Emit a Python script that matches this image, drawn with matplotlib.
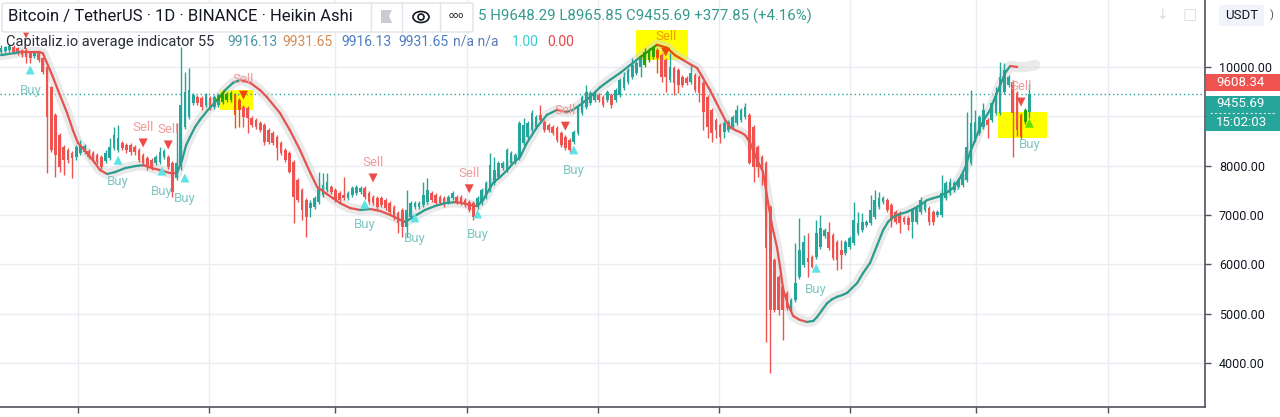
import matplotlib
matplotlib.use("Agg")
import matplotlib.pyplot as plt
from matplotlib.collections import LineCollection
from matplotlib.patches import Rectangle, FancyBboxPatch, Ellipse, Polygon
from matplotlib.colors import to_rgb
import numpy as np

plt.rcParams['font.family'] = ['Roboto', 'DejaVu Sans']

# Heikin Ashi candles, BTC/USDT daily
ha_open = [
    10300, 10330, 10350, 10410, 10390, 10350, 10350, 10300, 10220, 10280,
    10180, 10000, 9590, 9030, 8620, 8380, 8320, 8260, 8170, 8260,
    8280, 8300, 8260, 8220, 8170, 8090, 8150, 8360, 8320, 8460,
    8420, 8420, 8380, 8320, 8220, 8150, 8110, 8050, 8070, 8170,
    8170, 8050, 7750, 8010, 8780, 8990, 9270, 9390, 9370, 9230,
    9370, 9190, 9230, 9290, 9330, 9330, 9430, 9330, 9190, 9170,
    8970, 8930, 8860, 8820, 8720, 8660, 8580, 8460, 8320, 8260,
    8070, 7710, 7510, 7300, 7140, 7160, 7260, 7400, 7510, 7570,
    7510, 7450, 7400, 7340, 7400, 7450, 7470, 7550, 7450, 7360,
    7340, 7340, 7300, 7240, 7160, 7040, 7100, 6760, 6960, 7160,
    7160, 7200, 7260, 7450, 7400, 7360, 7340, 7260, 7340, 7360,
    7360, 7300, 7260, 7240, 7160, 7240, 7360, 7510, 7650, 7770,
    7950, 7910, 8050, 8070, 8150, 8460, 8580, 8720, 8780, 9030,
    8890, 8820, 8780, 8760, 8660, 8580, 8520, 8480, 8660, 9070,
    9190, 9270, 9330, 9430, 9390, 9330, 9430, 9330, 9430, 9570,
    9700, 9800, 9880, 10000, 10040, 10140, 10200, 10340, 10240, 10140,
    9740, 9980, 9940, 9800, 9780, 9700, 9840, 9800, 9680, 9390,
    9130, 8930, 8820, 8680, 8720, 8780, 8860, 8930, 8990, 9030,
    8780, 8380, 8170, 8050, 7160, 6090, 5740, 5540, 5420, 5070,
    5270, 5740, 5980, 6130, 6150, 6150, 6350, 6570, 6650, 6590,
    6450, 6290, 6230, 6350, 6430, 6630, 6690, 6800, 6840, 6960,
    7160, 7260, 7300, 7200, 7060, 7040, 6940, 6940, 6860, 6860,
    7060, 7100, 7140, 7060, 7000, 7000, 7340, 7450, 7510, 7570,
    7610, 7710, 8050, 8520, 8660, 8780, 8930, 8930, 9070, 9070,
    9490, 9630, 9700, 9470, 9030, 8890, 9078,
]
ha_high = [
    10450, 10430, 10470, 10450, 10410, 10370, 10390, 10330, 10300, 10300,
    10200, 10020, 9610, 9070, 8660, 8420, 8360, 8300, 8420, 8520,
    8440, 8340, 8300, 8260, 8220, 8320, 8560, 8780, 8820, 8500,
    8460, 8460, 8420, 8360, 8260, 8200, 8150, 8220, 8380, 8340,
    8220, 8090, 8860, 10410, 9900, 9980, 9470, 9430, 9410, 9470,
    9410, 9430, 9470, 9510, 9490, 9510, 9470, 9370, 9230, 9210,
    9010, 8970, 8910, 8860, 8760, 8700, 8620, 8500, 8360, 8300,
    8110, 7750, 7550, 7340, 7300, 7380, 7870, 7850, 7850, 7610,
    7550, 7490, 7770, 7490, 7590, 7610, 7590, 7590, 7490, 7400,
    7380, 7380, 7340, 7280, 7200, 7080, 7140, 7510, 7280, 7280,
    7280, 7670, 7750, 7490, 7450, 7400, 7380, 7400, 7490, 7400,
    7400, 7340, 7300, 7280, 7380, 7550, 7690, 8260, 8170, 8090,
    8090, 8360, 8300, 8260, 8910, 8970, 8910, 9130, 9030, 9230,
    8930, 8860, 8820, 8800, 8700, 8620, 8560, 8720, 9230, 9430,
    9630, 9510, 9510, 9470, 9430, 9530, 9470, 9570, 9780, 9900,
    9980, 10180, 10120, 10240, 10390, 10390, 10430, 10390, 10280, 10180,
    10280, 10020, 9980, 9840, 9820, 10040, 9880, 9840, 9720, 9430,
    9170, 8970, 8860, 8910, 8930, 9030, 9230, 9170, 9270, 9070,
    8820, 8420, 8220, 8090, 7200, 6130, 5780, 5580, 5460, 5310,
    6430, 6940, 6590, 6630, 6190, 6900, 7000, 6740, 6860, 6630,
    6490, 6490, 6490, 6570, 7260, 7060, 7040, 6900, 7400, 7510,
    7460, 7380, 7340, 7240, 7100, 7080, 6980, 6980, 7140, 7200,
    7360, 7280, 7180, 7100, 7100, 7810, 7690, 7750, 7690, 7750,
    7850, 9090, 9530, 9130, 9030, 9270, 8970, 9310, 9590, 10100,
    10080, 9840, 9740, 9510, 9070, 9170, 9648,
]
ha_low = [
    10240, 10280, 10300, 10260, 10240, 10200, 10080, 10080, 10180, 10100,
    9860, 7850, 8280, 7770, 7870, 7810, 8050, 7750, 8110, 8220,
    8240, 8130, 8070, 8030, 7930, 8050, 8110, 8320, 8280, 8320,
    8260, 8220, 8220, 8070, 7990, 7910, 7910, 8010, 8030, 8130,
    7930, 7360, 7710, 7910, 8740, 8950, 9230, 9230, 9130, 9190,
    9130, 9150, 9190, 9250, 9290, 9290, 8760, 8780, 8780, 8660,
    8780, 8740, 8680, 8420, 8440, 8420, 8110, 8220, 8070, 7850,
    6840, 7260, 6900, 6550, 6960, 7120, 7220, 7360, 7470, 7420,
    7260, 7260, 7300, 7300, 7360, 7400, 7430, 7320, 7220, 7200,
    7120, 7160, 7100, 7020, 6900, 6630, 6550, 6550, 6920, 7120,
    7120, 7160, 7220, 7260, 7200, 7200, 7160, 7220, 7300, 7220,
    7200, 7160, 7060, 6900, 7120, 7200, 7320, 7470, 7610, 7730,
    7910, 7870, 8010, 8030, 8110, 8420, 8540, 8680, 8740, 8890,
    8680, 8680, 8620, 8480, 8380, 8320, 8280, 8440, 8620, 9030,
    9150, 9230, 9290, 9290, 9190, 9290, 9170, 9290, 9390, 9530,
    9650, 9760, 9840, 9800, 10000, 10100, 10160, 9880, 9700, 9490,
    9700, 9430, 9470, 9590, 9630, 9650, 9490, 9290, 8720, 8560,
    8480, 8560, 8460, 8560, 8680, 8740, 8820, 8890, 8950, 8030,
    7670, 7770, 7610, 4420, 3800, 5030, 4970, 4460, 5070, 5030,
    5230, 5700, 5940, 5740, 5920, 6110, 6310, 6530, 6290, 6090,
    5880, 5900, 6190, 6310, 6390, 6590, 6650, 6760, 6800, 6920,
    7120, 7220, 7060, 6760, 6820, 6630, 6820, 6690, 6530, 6820,
    7020, 7060, 6800, 6800, 6960, 6960, 7300, 7400, 7470, 7530,
    7570, 7670, 8010, 8480, 8620, 8740, 8560, 8890, 9030, 9030,
    9450, 9590, 8170, 8610, 8540, 8840, 8966,
]
ha_close = [
    10390, 10410, 10430, 10300, 10280, 10240, 10200, 10180, 10280, 10140,
    9900, 8990, 8320, 8220, 7970, 8110, 8110, 8150, 8380, 8420,
    8400, 8170, 8110, 8070, 7970, 8260, 8380, 8620, 8560, 8360,
    8320, 8280, 8280, 8110, 8050, 7970, 7950, 8170, 8280, 8300,
    7970, 7470, 8050, 9230, 9490, 9530, 9430, 9270, 9190, 9430,
    9170, 9390, 9430, 9470, 9450, 9470, 9030, 9130, 8990, 8970,
    8820, 8780, 8720, 8480, 8480, 8460, 8360, 8260, 8110, 7870,
    7360, 7300, 7100, 6960, 7240, 7340, 7570, 7610, 7670, 7470,
    7300, 7300, 7340, 7450, 7550, 7570, 7550, 7360, 7260, 7240,
    7160, 7200, 7140, 7060, 6940, 6840, 6760, 7100, 7240, 7240,
    7240, 7400, 7510, 7300, 7240, 7240, 7200, 7360, 7450, 7260,
    7240, 7200, 7100, 6960, 7340, 7510, 7650, 8010, 7910, 8050,
    8050, 8320, 8260, 8220, 8860, 8820, 8860, 9070, 8990, 8930,
    8720, 8720, 8660, 8520, 8420, 8360, 8320, 8680, 9190, 9390,
    9490, 9470, 9470, 9330, 9230, 9490, 9230, 9530, 9740, 9800,
    9940, 10040, 10080, 10200, 10300, 10340, 10390, 10180, 9800, 9800,
    10000, 9680, 9630, 9630, 9680, 9880, 9530, 9470, 9090, 8780,
    8660, 8720, 8580, 8860, 8890, 8990, 9130, 9130, 9190, 8050,
    7970, 7970, 7970, 6330, 5070, 5070, 5070, 5070, 5110, 5270,
    5620, 6290, 6450, 6050, 5940, 6630, 6740, 6690, 6330, 6130,
    6090, 6190, 6450, 6530, 6900, 6840, 6860, 6860, 7100, 7300,
    7340, 7340, 7100, 6900, 6860, 6840, 6860, 6800, 7100, 7160,
    7300, 7240, 6860, 6860, 7060, 7450, 7650, 7670, 7650, 7710,
    7810, 8380, 8860, 8890, 8990, 9130, 8820, 9270, 9470, 9800,
    9940, 9800, 9070, 8720, 8580, 9130, 9456,
]

# "Capitaliz.io average indicator 55" line (bar index, price)
ind_idx = [
    0, 4.5, 9.3, 10.0, 12.4, 14.1, 15.8, 17.2, 18.4, 19.9,
    21.3, 22.5, 23.7, 25.4, 27.3, 29.7, 32.1, 34.0, 36.1, 38.0,
    40.4, 42.1, 43.3, 44.3, 45.2, 46.4, 47.6, 49.5, 51.7, 53.6,
    55.5, 57.2, 59.6, 62.0, 63.6, 66.7, 69.1, 71.5, 73.9, 75.6,
    77.5, 79.4, 81.1, 83.5, 85.9, 88.3, 90.7, 93.1, 95.5, 96.7,
    99.0, 101.4, 103.8, 106.2, 108.6, 110.5, 112.2, 113.9, 115.3, 116.3,
    117.7, 119.4, 121.1, 122.5, 124.2, 125.8, 128.2, 130.6, 133.0, 135.4,
    136.8, 138.5, 140.9, 143.3, 145.7, 148.1, 150.5, 152.9, 155.3, 156.9,
    159.3, 161.2, 163.2, 164.8, 166.5, 167.9, 169.6, 170.8, 172.0, 173.2,
    174.4, 175.6, 176.8, 178.0, 179.2, 180.9, 182.3, 183.5, 184.4, 185.6,
    186.4, 187.1, 188.3, 189.5, 191.1, 192.8, 194.3, 195.2, 196.4, 197.6,
    198.8, 200.0, 201.4, 202.4, 203.6, 204.8, 206.2, 207.9, 209.6, 211.0,
    212.2, 213.4, 215.1, 216.7, 218.2, 219.9, 221.5, 223.0, 224.6, 226.3,
    227.8, 229.4, 230.6, 231.8, 233.0, 234.2, 235.4, 236.6, 237.8, 239.0,
    240.2, 241.4, 243.1,
]
ind_val = [
    10240, 10300, 10300, 10280, 9800, 9430, 9070, 8720, 8460, 8320,
    8180, 8050, 7910, 7830, 7870, 7950, 7990, 8010, 7950, 7910,
    7850, 7850, 8110, 8420, 8580, 8780, 8930, 9130, 9330, 9530,
    9680, 9740, 9680, 9530, 9390, 9070, 8720, 8320, 7870, 7570,
    7450, 7340, 7240, 7140, 7100, 7120, 7080, 7000, 6900, 6860,
    6980, 7100, 7180, 7240, 7260, 7240, 7200, 7180, 7300, 7450,
    7650, 7770, 7910, 8050, 8180, 8460, 8780, 9030, 9130, 9090,
    9130, 9230, 9390, 9590, 9740, 9880, 10040, 10200, 10350, 10450,
    10390, 10240, 10140, 10060, 9980, 9780, 9530, 9330, 9130, 8930,
    8780, 8720, 8680, 8620, 8460, 8110, 7870, 7240, 6800, 6350,
    5920, 5480, 5170, 4950, 4870, 4830, 4850, 4930, 5070, 5210,
    5290, 5340, 5380, 5420, 5520, 5620, 5820, 6030, 6390, 6690,
    6860, 6960, 7020, 7060, 7120, 7200, 7300, 7340, 7380, 7460,
    7550, 7750, 7950, 8270, 8520, 8780, 8970, 9130, 9390, 9630,
    9880, 10020, 10000,
]
tail_idx = [243.1, 245.0, 247.4]
tail_val = [10000, 10000, 10040]

buy_idx = [7, 28, 38.5, 44, 87, 99, 114, 137, 195, 246]
buy_val = [9940, 8110, 7890, 7750, 7220, 6940, 7020, 8320, 5920, 8860]
sell_idx = [6, 34, 40, 58, 89, 112, 135, 159, 244]
sell_val = [10670, 8460, 8420, 9430, 7750, 7530, 8800, 10300, 9290]
# first "Sell" label sits under the legend box in the reference, only its arrow shows
sell_labels = ['', 'Sell', 'Sell', 'Sell', 'Sell', 'Sell', 'Sell', 'Sell', 'Sell']

# yellow highlighter marks (bar from, bar to, price low, price high)
highlights = [(52.4, 60.3, 9128, 9534), (151.9, 164.4, 10140, 10750), (238.5, 250.2, 8560, 9087)]

month_idx = [18.4, 49.8, 79.9, 111.5, 142.8, 171.8, 203.1, 233.3, 264.8]
price_ticks = [4000, 5000, 6000, 7000, 8000, 9000, 10000]
last_close = 9455.69
ind_last = 9608.34

TEAL = '#26a69a'
RED = '#ef5350'
W, H = 1280, 417


def fx(x):
    return x / W


def fy(y):
    return 1 - y / H


def tint(col, x, y):
    # highlighter acts like multiply with yellow
    for x0, x1, p0, p1 in highlights:
        if x0 <= x <= x1 and p0 <= y <= p1:
            r, g, b = to_rgb(col)
            return (r, g, 0.0)
    return col


fig = plt.figure(figsize=(W / 100, H / 100), dpi=100)
ax = fig.add_axes([0, 10 / H, 1205 / W, 407 / H])
ax.set_xlim(-0.24, 288.0)
ax.set_ylim(3105, 11359)

for x0, x1, p0, p1 in highlights:
    ax.add_patch(Rectangle((x0, p0), x1 - x0, p1 - p0, fc='#ffff00', ec='none', zorder=1))

o = np.array(ha_open, float)
hi = np.array(ha_high, float)
lo = np.array(ha_low, float)
c = np.array(ha_close, float)
idx = np.arange(len(o))
cols = [tint(TEAL if cc >= oo else RED, i, (oo + cc) / 2) for i, oo, cc in zip(idx, o, c)]
ax.vlines(idx, lo, hi, colors=cols, lw=1, zorder=3)
ax.bar(idx, np.maximum(np.abs(c - o), 25), bottom=np.minimum(o, c), width=0.64,
       color=cols, linewidth=0, zorder=3)

# indicator line with its soft grey halo
ax.plot(ind_idx + tail_idx[1:], ind_val + tail_val[1:], color='#d6d6d6', lw=7.5, alpha=0.5,
        solid_capstyle='round', solid_joinstyle='round', zorder=2.5)
pts = np.column_stack([ind_idx, ind_val])
segs = np.stack([pts[:-1], pts[1:]], axis=1)
seg_cols = [tint('#2b9c8e' if b[1] > a[1] else '#e5534f', (a[0] + b[0]) / 2, (a[1] + b[1]) / 2)
            for a, b in segs]
ax.add_collection(LineCollection(segs, colors=seg_cols, linewidths=1.6, capstyle='round', zorder=4))

ax.axhline(last_close, color=TEAL, lw=1, ls=(0, (1, 2)), zorder=2)

bc = [tint('#5fe2e4', x, y) for x, y in zip(buy_idx, buy_val)]
ax.scatter(buy_idx, buy_val, marker='^', s=42, c=bc, linewidths=0, zorder=5)
for x, y in zip(buy_idx, buy_val):
    ax.annotate('Buy', (x, y), xytext=(0, -15), textcoords='offset points', ha='center',
                va='center', fontsize=9.5, color=tint('#80c6c2', x, y - 420), zorder=6)
sc = [tint('#ef4a48', x, y) for x, y in zip(sell_idx, sell_val)]
ax.scatter(sell_idx, sell_val, marker='v', s=42, c=sc, linewidths=0, zorder=5)
for x, y, t in zip(sell_idx, sell_val, sell_labels):
    if t:
        ax.annotate(t, (x, y), xytext=(0, 11), textcoords='offset points', ha='center',
                    va='center', fontsize=9.5, color=tint('#f19b9a', x, y + 300), zorder=6)

# axes styling
ax.set_xticks(month_idx)
ax.set_xticklabels([])
ax.set_yticks(price_ticks)
# 9000 label is covered by the price tags on the scale
ax.set_yticklabels(['' if v == 9000 else f"{v:.2f}" for v in price_ticks])
ax.yaxis.tick_right()
ax.tick_params(axis='y', length=4, width=1, color='#50535e', labelsize=9, labelcolor='#131722', pad=6)
ax.tick_params(axis='x', length=4, width=1, color='#50535e')
ax.grid(True, color='#eaecf1', lw=1, zorder=0)
ax.set_axisbelow(True)
for s in ['top', 'left']:
    ax.spines[s].set_visible(False)
for s in ['right', 'bottom']:
    ax.spines[s].set_color('#50535e')
    ax.spines[s].set_linewidth(1.2)

# header legend box
fig.patches.append(FancyBboxPatch((fx(2), fy(32)), 471 / W, 29 / H, boxstyle='round,pad=0,rounding_size=0.003',
                                  fc='white', ec='#dfe2e8', lw=1, transform=fig.transFigure, zorder=5))
for xs in [371, 402, 440]:
    fig.lines.append(plt.Line2D([fx(xs), fx(xs)], [fy(4), fy(31)], color='#e0e3eb', lw=1,
                                transform=fig.transFigure, zorder=6))
fig.text(fx(8), fy(17), 'Bitcoin / TetherUS · 1D · BINANCE · Heikin Ashi', fontsize=12,
         color='#131722', va='center', ha='left', zorder=7)
fig.patches.append(Polygon([(fx(381), fy(10)), (fx(392), fy(10)), (fx(389), fy(16)), (fx(392), fy(23)),
                            (fx(381), fy(23))], closed=True, fc='#c9cbd1', ec='none',
                           transform=fig.transFigure, zorder=7))
fig.patches.append(Ellipse((fx(421), fy(17)), 16 / W, 11 / H, fc='none', ec='#131722', lw=1.2,
                           transform=fig.transFigure, zorder=7))
fig.patches.append(Ellipse((fx(421), fy(17)), 6 / W, 6 / H, fc='none', ec='#131722', lw=1.2,
                           transform=fig.transFigure, zorder=7))
fig.text(fx(456), fy(16), 'ooo', fontsize=6.5, color='#131722', va='center', ha='center', zorder=7)
fig.text(fx(478), fy(16), '5 H9648.29 L8965.85 C9455.69 +377.85 (+4.16%)', fontsize=10.8,
         color='#36998d', va='center', ha='left', zorder=7)

fig.text(fx(6), fy(42), 'Capitaliz.io average indicator 55', fontsize=10.5, color='#2a2e39',
         va='center', ha='left', zorder=7)
legend_vals = ['9916.13', '9931.65', '9916.13', '9931.65', 'n/a n/a', '1.00', '0.00']
legend_cols = ['#4b97a6', '#d88b55', '#4d7fc1', '#4d7fc1', '#5a7fb5', '#35cfd2', '#e0484a']
legend_x = [227, 282, 341, 398, 453, 512, 547]
for t, col, x in zip(legend_vals, legend_cols, legend_x):
    fig.text(fx(x), fy(42), t, fontsize=10, color=col, va='center', ha='left', zorder=7)

# right price scale labels
fig.patches.append(Rectangle((fx(1206), fy(91)), 74 / W, 17 / H, fc=RED, ec='none',
                             transform=fig.transFigure, zorder=5))
fig.text(fx(1216), fy(82.5), f"{ind_last:.2f}", fontsize=9.5, color='white', va='center', ha='left', zorder=7)
fig.patches.append(Rectangle((fx(1206), fy(131)), 74 / W, 35 / H, fc=TEAL, ec='none',
                             transform=fig.transFigure, zorder=5))
fig.lines.append(plt.Line2D([fx(1210), fx(1276)], [fy(112.5), fy(112.5)], color='white', lw=0.8,
                            ls=(0, (2, 2)), alpha=0.8, transform=fig.transFigure, zorder=6))
fig.text(fx(1216), fy(103.5), f"{last_close:.2f}", fontsize=9.5, color='white', va='center', ha='left', zorder=7)
fig.text(fx(1216), fy(122), '15:02:03', fontsize=9.5, color='white', va='center', ha='left', zorder=7)

fig.patches.append(FancyBboxPatch((fx(1219), fy(26)), 45 / W, 21 / H, boxstyle='round,pad=0,rounding_size=0.003',
                                  fc='#f0f3fa', ec='none', transform=fig.transFigure, zorder=5))
fig.text(fx(1241.5), fy(15.5), 'USDT', fontsize=9.5, color='#131722', va='center', ha='center', zorder=7)
fig.text(fx(1272), fy(15.5), ')', fontsize=8, color='#50535e', va='center', ha='center', zorder=7)
fig.text(fx(1162), fy(15), '↓', fontsize=10, color='#dadde3', va='center', ha='center', zorder=7)
fig.text(fx(1190), fy(15), '□', fontsize=11, color='#dadde3', va='center', ha='center', zorder=7)

fig.savefig('out.png', dpi=100)
